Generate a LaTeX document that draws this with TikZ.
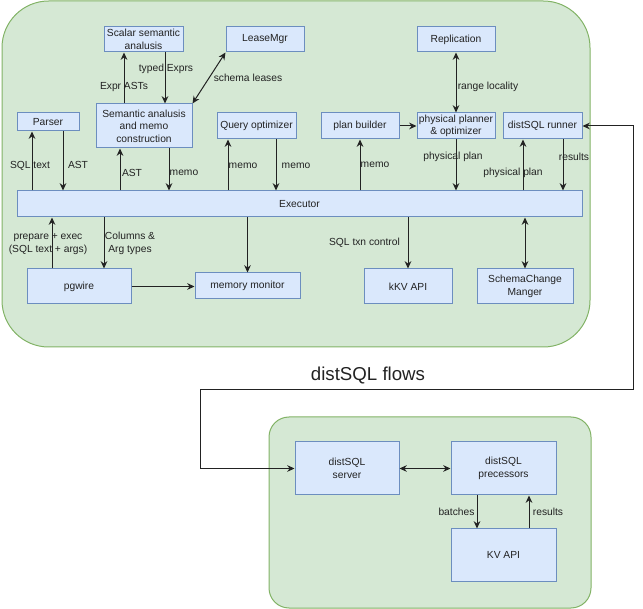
\documentclass[tikz,border=0pt]{standalone}
\usepackage{fontspec}
\setmainfont{Liberation Sans}
\usetikzlibrary{arrows.meta}
\definecolor{gfill}{HTML}{D5E8D4}
\definecolor{gline}{HTML}{82B366}
\definecolor{bfill}{HTML}{DAE8FC}
\definecolor{bline}{HTML}{6C8EBF}
\definecolor{ink}{HTML}{222222}
\newcommand\bx[6]{\node[blk, minimum width={(#4-#2)*0.75pt}, minimum height={(#5-#3)*0.75pt}] (#1) at ({(#2+#4)/2},{(#3+#5)/2}) {#6};}
\begin{document}
\begin{tikzpicture}[x=0.75pt,y=-0.75pt,
  blk/.style={draw=bline, fill=bfill, line width=0.75pt, inner sep=0pt, align=center, font=\fontsize{7.7}{9.4}\selectfont, text=ink},
  grp/.style={draw=gline, fill=gfill, line width=0.75pt},
  arr/.style={draw=ink, line width=0.75pt, -{Stealth[length=5.5pt,width=5pt]}},
  arrb/.style={draw=ink, line width=0.75pt, {Stealth[length=5.5pt,width=5pt]}-{Stealth[length=5.5pt,width=5pt]}},
  lbl/.style={inner sep=0pt, align=center, font=\fontsize{7.7}{9.7}\selectfont, text=ink},
]
\useasboundingbox (0,0) rectangle (643,609);
% groups
\draw[grp, rounded corners=35pt] (2,1) rectangle (590,347);
\draw[grp, rounded corners=15pt] (269,417) rectangle (591,608);
% boxes
\bx{scalar}{104}{27}{183}{52}{Scalar semantic\\analusis}
\bx{lease}{226}{27}{304}{52}{LeaseMgr}
\bx{repl}{417}{27}{495}{52}{Replication}
\bx{parser}{17}{113}{79}{131}{Parser}
\bx{sem}{96}{104}{192}{148}{Semantic analusis\\and memo\\construction}
\bx{qo}{217}{113}{296}{139}{Query optimizer}
\bx{pb}{321}{113}{399}{139}{plan builder}
\bx{ppo}{417}{113}{495}{139}{physical planner\\\& optimizer}
\bx{runner}{503}{113}{582}{139}{distSQL runner}
\bx{exec}{17}{191}{582}{217}{Executor}
\bx{pgwire}{27}{269}{131}{304}{pgwire}
\bx{mem}{195}{273}{300}{299}{memory monitor}
\bx{kkv}{364}{269}{452}{304}{kKV API}
\bx{scm}{477}{269}{573}{304}{SchemaChange\\Manger}
\bx{server}{295}{442}{399}{495}{distSQL\\server}
\bx{proc}{451}{442}{556}{495}{distSQL\\precessors}
\bx{kv}{451}{529}{556}{581}{KV API}
% connectors
\draw[arr] (exec.north -| 32,0) -- (parser.south -| 32,0) node[lbl, at={(30,166)}] {SQL text};
\draw[arr] (parser.south -| 63,0) -- (exec.north -| 63,0) node[lbl, at={(78,165)}] {AST};
\draw[arr] (exec.north -| 120,0) -- (sem.south -| 120,0) node[lbl, at={(132,173)}] {AST};
\draw[arr] (sem.south -| 169,0) -- (exec.north -| 169,0) node[lbl, at={(184,173)}] {memo};
\draw[arr] (sem.north -| 124,0) -- (scalar.south -| 124,0) node[lbl, at={(124,87)}] {Expr ASTs};
\draw[arr] (scalar.south -| 165,0) -- (sem.north -| 165,0) node[lbl, at={(166,69)}] {typed Exprs};
\draw[arrb] (sem.north east) -- (lease.south west) node[lbl, at={(248,78)}] {schema leases};
\draw[arr] (exec.north -| 228,0) -- (qo.south -| 228,0) node[lbl, at={(243,166)}] {memo};
\draw[arr] (qo.south -| 276,0) -- (exec.north -| 276,0) node[lbl, at={(296,166)}] {memo};
\draw[arrb] (repl.south) -- (ppo.north) node[lbl, at={(488,87)}] {range locality};
\draw[arr] (exec.north -| pb.south) -- (pb.south) node[lbl, at={(375,165)}] {memo};
\draw[arr] (pb.east) -- (ppo.west);
\draw[arr] (ppo.south) -- (exec.north -| ppo.south) node[lbl, at={(453,157)}] {physical plan};
\draw[arr] (exec.north -| 523,0) -- (runner.south -| 523,0) node[lbl, at={(513,173)}] {physical plan};
\draw[arr] (runner.south -| 563,0) -- (exec.north -| 563,0) node[lbl, at={(574,157)}] {results};
\draw[arr] (pgwire.north -| 52,0) -- (exec.south -| 52,0) node[lbl, at={(48,244.5)}] {prepare + exec\\(SQL text + args)};
\draw[arr] (exec.south -| 104,0) -- (pgwire.north -| 104,0) node[lbl, at={(130,243.5)}] {Columns \&\\Arg types};
\draw[arr] (pgwire.east) -- (mem.west |- pgwire.east);
\draw[arr] (exec.south -| mem.north) -- (mem.north);
\draw[arr] (exec.south -| kkv.north) -- (kkv.north) node[lbl, at={(364.5,243)}] {SQL txn control};
\draw[arrb] (exec.south -| scm.north) -- (scm.north);
% distSQL flow
\coordinate (c1) at (633,126);
\coordinate (c2) at (633,390);
\coordinate (c3) at (200,390);
\coordinate (c4) at (200,468.5);
\draw[arrb] (runner.east) -- (c1) -- (c2) -- (c3) -- (c4) -- (server.west);
\node[lbl, font=\fontsize{14}{16}\selectfont] (flows) at (368,376) {distSQL flows};
\draw[arrb] (server.east) -- (proc.west);
\draw[arr] (proc.south -| 477,0) -- (kv.north -| 477,0) node[lbl, at={(456.5,512)}] {batches};
\draw[arr] (kv.north -| 529,0) -- (proc.south -| 529,0) node[lbl, at={(548,512)}] {results};
\end{tikzpicture}
\end{document}
